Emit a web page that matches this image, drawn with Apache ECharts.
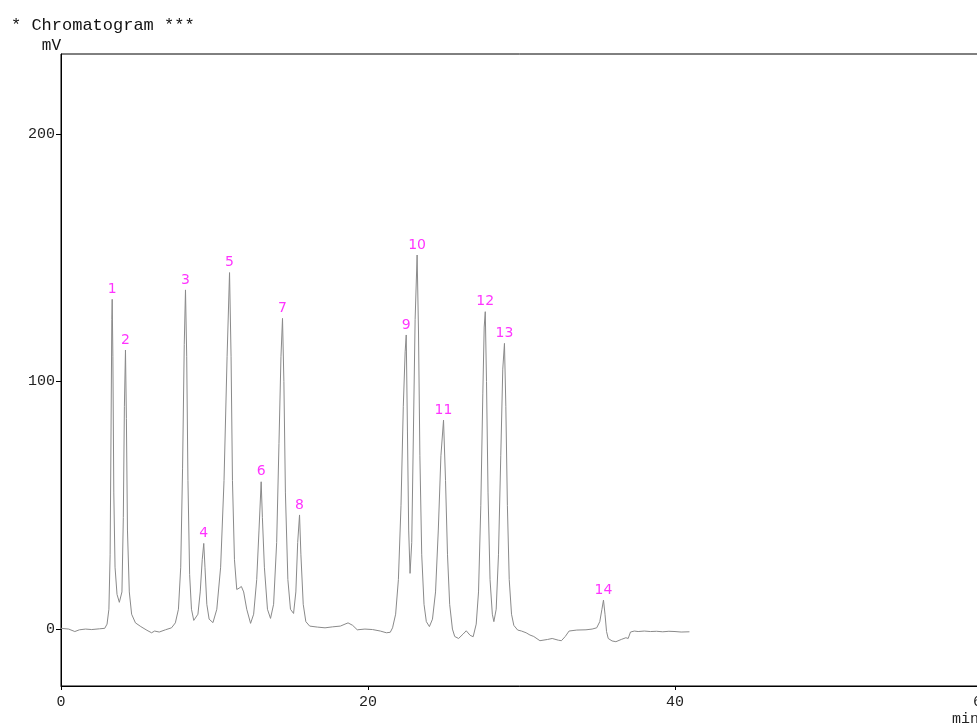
<!DOCTYPE html>
<html>
<head>
<meta charset="utf-8">
<script src="https://cdn.jsdelivr.net/npm/echarts@6/dist/echarts.min.js"></script>
<style>
  html, body { margin: 0; padding: 0; background: #fff; }
  #chart { width: 977px; height: 726px; }
</style>
</head>
<body>
<div id="chart"></div>
<script>
// detector trace (time in min, signal in mV)
var traceTime = [
  0.0, 0.5, 0.9, 1.2, 1.6, 2.0, 2.5, 2.85,
  3.0, 3.12, 3.2, 3.26, 3.31, 3.335, 3.38, 3.44, 3.52, 3.65, 3.8, 3.88,
  3.97, 4.06, 4.13, 4.2, 4.26, 4.33, 4.45, 4.6, 4.85, 5.2, 5.6, 5.9, 6.1, 6.4, 6.8, 7.2,
  7.45, 7.65, 7.8, 7.92, 8.03, 8.11, 8.19, 8.27, 8.38, 8.5, 8.65, 8.78,
  8.92, 9.07, 9.2, 9.3, 9.38, 9.5, 9.65, 9.9,
  10.15, 10.4, 10.62, 10.82, 10.98, 11.08, 11.17, 11.3, 11.45, 11.6, 11.75, 11.9, 12.1, 12.35,
  12.55, 12.75, 12.9, 13.04, 13.12, 13.25, 13.45, 13.65,
  13.85, 14.05, 14.2, 14.33, 14.43, 14.52, 14.62, 14.78, 14.95, 15.15,
  15.3, 15.42, 15.54, 15.63, 15.78, 15.95, 16.2, 16.7, 17.2, 17.7, 18.2, 18.7, 19.0, 19.3,
  19.8, 20.3, 20.8, 21.2, 21.45,
  21.6, 21.8, 21.98, 22.15, 22.3, 22.42, 22.49, 22.57, 22.65, 22.74,
  22.85, 22.96, 23.07, 23.2, 23.29, 23.38, 23.5, 23.65, 23.8, 24.0,
  24.2, 24.4, 24.58, 24.75, 24.92, 25.05, 25.18, 25.32, 25.5, 25.65, 25.9, 26.2, 26.4, 26.65, 26.85,
  27.05, 27.2, 27.35, 27.48, 27.57, 27.64, 27.72, 27.82, 27.95, 28.1, 28.2,
  28.35, 28.5, 28.65, 28.78, 28.89, 28.98, 29.08, 29.2, 29.35, 29.5, 29.75,
  30.0, 30.3, 30.55, 30.8, 31.2, 31.7, 32.0, 32.4, 32.6, 32.85, 33.1, 33.6, 34.2, 34.6, 34.9,
  35.1, 35.24, 35.34, 35.44, 35.54, 35.65, 35.9, 36.15, 36.5, 36.8, 36.95, 37.1,
  37.35, 37.6, 38.0, 38.4, 38.8, 39.2, 39.6, 40.0, 40.4, 40.94
];
var traceSignal = [
  0.3, 0.0, -1.0, -0.3, 0.0, -0.2, 0.1, 0.3,
  2, 8, 30, 80, 125, 133.2, 110, 55, 25, 14, 10.8, 10.4,
  15, 45, 90, 112.7, 85, 40, 15, 6, 2.5, 1.0, -0.5, -1.5, -0.8, -1.2, -0.3, 0.5,
  2.5, 8, 25, 65, 115, 137.0, 110, 60, 22, 8, 3.5, 3.0,
  6, 15, 28, 34.6, 25, 10, 4, 2.6,
  8, 25, 60, 110, 144.0, 110, 60, 28, 16, 16.5, 17.2, 15, 8, 2.3,
  6, 20, 40, 59.5, 45, 25, 8, 4.3,
  10, 35, 75, 110, 125.5, 100, 55, 20, 8, 6.3,
  15, 35, 46.1, 30, 10, 3, 1.2, 0.8, 0.5, 0.9, 1.2, 2.5, 1.5, -0.3,
  0.0, -0.2, -0.8, -1.5, -1.3,
  0.5, 6, 20, 50, 90, 112, 118.8, 80, 40, 22.5,
  35, 80, 125, 151.1, 120, 70, 30, 10, 3, 1.0,
  4, 15, 40, 70, 84.4, 60, 30, 10, 0, -3.0, -3.8, -2.0, -0.7, -2.5, -3.1,
  2, 15, 50, 95, 122, 128.2, 100, 55, 20, 6, 3.0,
  8, 30, 70, 105, 115.4, 90, 50, 20, 6, 1.5, -0.4,
  -0.8, -1.5, -2.4, -3.0, -4.7, -4.2, -3.8, -4.5, -4.7, -3.0, -0.8, -0.4, -0.3, 0.0, 0.5,
  3, 8, 11.7, 6, -1, -3.8, -4.8, -5.1, -4.2, -3.5, -3.8, -1.2,
  -0.8, -1.0, -0.8, -1.0, -0.9, -1.1, -0.9, -1.0, -1.2, -1.1
];

// integrated peaks
var peakIds = ['1', '2', '3', '4', '5', '6', '7', '8', '9', '10', '11', '12', '13', '14'];
var peakTimes = [3.335, 4.2, 8.11, 9.3, 10.98, 13.04, 14.43, 15.54, 22.49, 23.2, 24.92, 27.64, 28.89, 35.34];
var peakHeights = [133.2, 112.7, 137.0, 34.6, 144.0, 59.5, 125.5, 46.1, 118.8, 151.1, 84.4, 128.2, 115.4, 11.7];

var yTicks = [0, 100, 200];

var mono = '"Liberation Mono", "Courier New", monospace';

var chart = echarts.init(document.getElementById('chart'));

var traceData = traceTime.map(function (t, i) { return [t, traceSignal[i]]; });
var peakData = peakTimes.map(function (t, i) { return { value: [t, peakHeights[i]], name: peakIds[i] }; });

var option = {
  animation: false,
  backgroundColor: '#fff',
  title: {
    text: '* Chromatogram ***',
    left: 11,
    top: 17,
    padding: 0,
    textStyle: { fontFamily: mono, fontSize: 17, fontWeight: 'normal', color: '#111' }
  },
  grid: {
    left: 61,
    right: -5,
    top: 54,
    bottom: 40,
    show: true,
    borderColor: '#000',
    borderWidth: 1,
    outerBoundsMode: 'none'
  },
  xAxis: {
    type: 'value',
    min: 0,
    max: 60,
    interval: 20,
    name: 'min',
    nameLocation: 'end',
    nameGap: -30,
    nameTextStyle: {
      fontFamily: mono, fontSize: 15, color: '#222',
      align: 'left', verticalAlign: 'top', padding: [26, 0, 0, 0]
    },
    axisLine: { onZero: false, lineStyle: { color: '#000', width: 1 } },
    axisTick: { show: true, length: 4, lineStyle: { color: '#000' } },
    axisLabel: { fontFamily: mono, fontSize: 15, color: '#222', margin: 9 },
    splitLine: { show: false }
  },
  yAxis: {
    type: 'value',
    min: -23,
    max: 232.3,
    name: 'mV',
    nameLocation: 'end',
    nameGap: 0,
    nameTextStyle: { fontFamily: mono, fontSize: 16, color: '#111', align: 'right' },
    axisLine: { show: true, onZero: false, lineStyle: { color: '#000', width: 1 } },
    axisTick: { show: true, length: 5, customValues: yTicks, lineStyle: { color: '#000' } },
    axisLabel: { fontFamily: mono, fontSize: 15, color: '#222', margin: 6, customValues: yTicks },
    splitLine: { show: false }
  },
  series: [
    {
      name: 'trace',
      type: 'line',
      data: traceData,
      showSymbol: false,
      symbol: 'none',
      lineStyle: { color: '#8a8a8a', width: 1 },
      z: 2
    },
    {
      name: 'peaks',
      type: 'scatter',
      data: peakData,
      symbolSize: 0,
      label: {
        show: true,
        position: 'top',
        distance: 3,
        formatter: '{b}',
        color: '#ff00ff',
        fontFamily: '"DejaVu Sans", Verdana, sans-serif',
        fontSize: 14
      },
      z: 3
    }
  ]
};

chart.setOption(option);
</script>
</body>
</html>
